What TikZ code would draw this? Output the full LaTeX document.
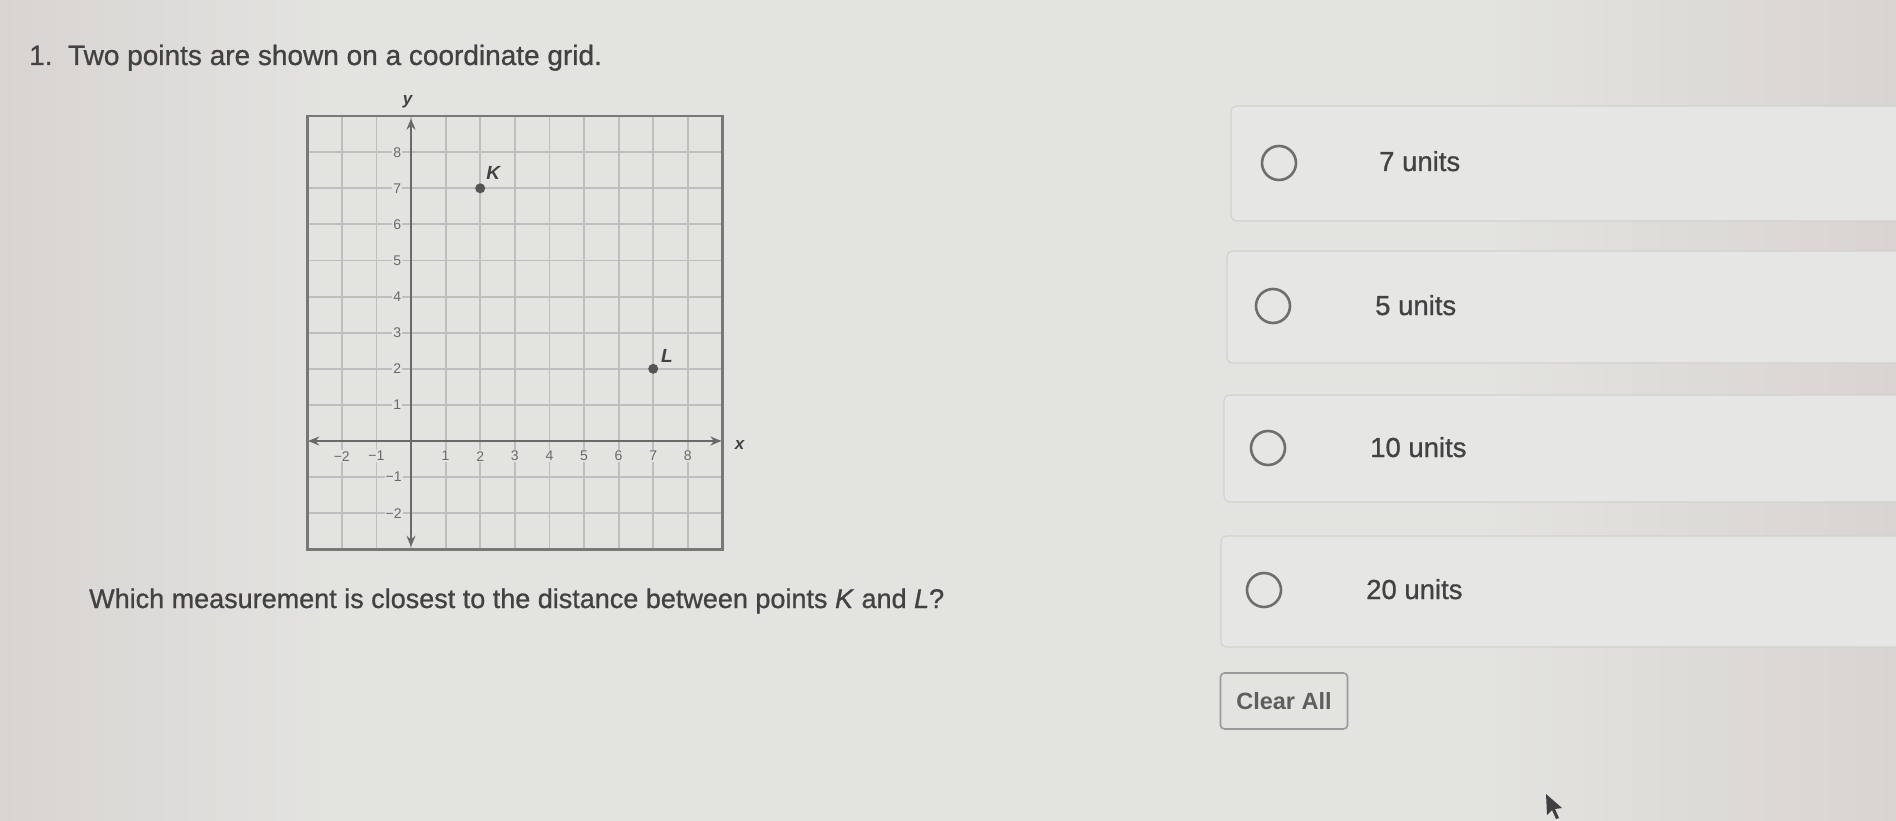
\documentclass[tikz,border=0pt]{standalone}
\usepackage{fontspec}
\setmainfont{Liberation Sans}
\newfontfamily\medfont{Liberation Sans}[FakeBold=0.9]
\usetikzlibrary{arrows.meta}
\definecolor{bgL}{RGB}{216,212,210}
\definecolor{bgM}{RGB}{227,227,224}
\definecolor{bgR}{RGB}{216,212,209}
\definecolor{txt}{RGB}{66,66,66}
\definecolor{gridc}{RGB}{190,190,188}
\definecolor{borderc}{RGB}{120,120,120}
\definecolor{axisc}{RGB}{105,105,105}
\definecolor{boxc}{RGB}{210,210,207}
\definecolor{boxfill}{RGB}{230,230,228}
\definecolor{ringc}{RGB}{110,110,110}
\begin{document}
\begin{tikzpicture}[x=1pt,y=-1pt,
  maintext/.style={font=\medfont\fontsize{28}{34}\selectfont, text=txt, inner sep=0pt, anchor=base west},
  qtext/.style={font=\medfont\fontsize{27}{32}\selectfont, text=txt, inner sep=0pt, anchor=base west},
  opt/.style={font=\medfont\fontsize{27.5}{33}\selectfont, text=txt, inner sep=0pt, anchor=base west},
  radio/.style={circle, draw=ringc, line width=2.6pt, minimum size=34pt, inner sep=0pt},
  optbox/.style={draw=boxc, fill=boxfill, line width=1.2pt, rounded corners=6pt},
  btn/.style={draw=borderc!75, line width=1.6pt, rounded corners=4pt, minimum width=127pt, minimum height=56pt,
    font=\bfseries\fontsize{23.5}{28}\selectfont, text=txt!85, inner sep=0pt},
  gridline/.style={draw=gridc, line width=1.8pt},
  gridborder/.style={draw=borderc, line width=2.6pt},
  axisline/.style={draw=axisc, line width=2.6pt, {Stealth[length=11pt,width=9pt]}-{Stealth[length=11pt,width=9pt]}},
  ticklab/.style={font=\fontsize{14}{16}\selectfont, text=axisc, fill=bgM, inner sep=1.2pt},
  dot/.style={circle, fill=txt!90, minimum size=10pt, inner sep=0pt},
  ptlab/.style={font=\bfseries\itshape\fontsize{19}{22}\selectfont, text=txt, inner sep=0pt},
  axlab/.style={font=\itshape\bfseries\fontsize{17}{20}\selectfont, text=txt, inner sep=0pt}
]
\useasboundingbox (0,0) rectangle (1896,821);
\fill[bgM] (0,0) rectangle (1896,821);
\shade[left color=bgL, right color=bgM] (0,0) rectangle (330,821);
\shade[left color=bgM, right color=bgR] (1480,0) rectangle (1896,821);

% title and question
\node[maintext] (title) at (29,65) {1.\ \ Two points are shown on a coordinate grid.};
\node[qtext] (question) at (89,608) {Which measurement is closest to the distance between points \textit{K} and \textit{L}?};

% coordinate grid
\begin{scope}[shift={(411pt,-441pt)}, x=34.6pt, y=36.1pt]
  \fill[bgM] (-3,-3) rectangle (9,9);
  \foreach \i in {-2,...,8} \draw[gridline] (\i,-3) -- (\i,9);
  \foreach \j in {-2,...,8} \draw[gridline] (-3,\j) -- (9,\j);
  \foreach \v in {1,...,8} \node[ticklab] (yl\v) at (-0.4,\v) {\v};
  \foreach \v in {1,2} \node[ticklab] (yln\v) at (-0.5,-\v) {−\v};
  \foreach \v in {1,...,8} \node[ticklab] (xl\v) at (\v,-0.42) {\v};
  \foreach \v in {1,2} \node[ticklab] (xln\v) at (-\v,-0.42) {−\v};
  \draw[gridborder] (-3,-3) rectangle (9,9);
  \coordinate (xa) at (-2.97,0);
  \coordinate (xb) at (8.97,0);
  \coordinate (ya) at (0,-2.93);
  \coordinate (yb) at (0,8.93);
  \draw[axisline] (xa) -- (xb);
  \draw[axisline] (ya) -- (yb);
  \node[axlab] (xlab) at (9.5,-0.1) {x};
  \node[axlab] (ylab) at (-0.1,9.4) {y};
  \node[dot] (K) at (2,7) {};
  \node[dot] (L) at (7,2) {};
  \node[ptlab] (Klab) at (2.38,7.42) {K};
  \node[ptlab] (Llab) at (7.4,2.35) {L};
\end{scope}

% answer choices
\draw[optbox] (1231,106) rectangle (1905,221);
\draw[optbox] (1227,251) rectangle (1905,363);
\draw[optbox] (1224,395) rectangle (1905,502);
\draw[optbox] (1221,536) rectangle (1905,647);
\node[radio] (r1) at (1279,163) {};
\node[radio] (r2) at (1273,306) {};
\node[radio] (r3) at (1268,448) {};
\node[radio] (r4) at (1264,590) {};
\node[opt] (o1) at (1379,171) {7 units};
\node[opt] (o2) at (1375,315) {5 units};
\node[opt] (o3) at (1370,457) {10 units};
\node[opt] (o4) at (1366,599) {20 units};

% button
\node[btn] (clear) at (1284,701) {Clear All};

% mouse pointer
\fill[black!75] (1546,794) -- (1547,815) -- (1552,810) -- (1556,819) -- (1559,818) -- (1555,809) -- (1562,808) -- cycle;
\end{tikzpicture}
\end{document}
